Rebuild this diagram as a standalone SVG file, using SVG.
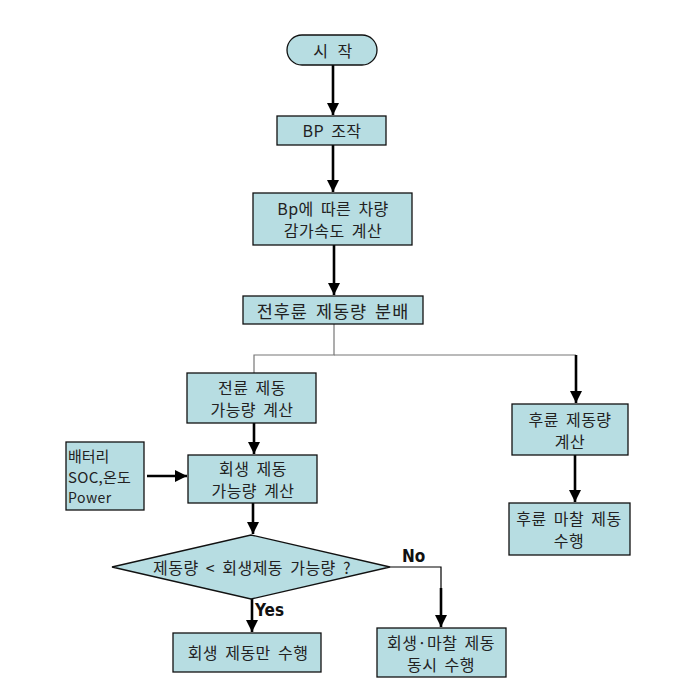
<svg xmlns="http://www.w3.org/2000/svg" width="677" height="699" viewBox="0 0 677 699">
<style>
.box{fill:#b7dde2;stroke:#111;stroke-width:1.3}
.t{font-family:"Noto Sans CJK KR","Liberation Sans",sans-serif;font-size:16px;letter-spacing:0.5px;word-spacing:3px;fill:#222;text-anchor:middle;dominant-baseline:central}
.tl{text-anchor:start}
.yn{font-family:"Liberation Sans Narrow","DejaVu Sans Condensed","Liberation Sans",sans-serif;font-weight:bold;font-size:17px;fill:#111}
.thick{stroke:#000;stroke-width:2.6;fill:none}
.thin{stroke:#777;stroke-width:1.2;fill:none}
.thinb{stroke:#000;stroke-width:1.2;fill:none}
</style>
<defs>
<marker id="ah" markerUnits="userSpaceOnUse" markerWidth="14" markerHeight="14" refX="12" refY="6" orient="auto">
<path d="M0,0 L12,6 L0,12 Z" fill="#000"/>
</marker>
</defs>
<rect width="677" height="699" fill="#fff"/>
<g id="connectors">
<line class="thick" x1="333" y1="65" x2="333" y2="115" marker-end="url(#ah)"/>
<line class="thick" x1="333" y1="145" x2="333" y2="192" marker-end="url(#ah)"/>
<line class="thick" x1="334" y1="245" x2="334" y2="295" marker-end="url(#ah)"/>
<polyline class="thin" points="334,324 334,355 254,355 254,373"/>
<line class="thin" x1="334" y1="355" x2="576" y2="355"/>
<line class="thick" x1="576" y1="355" x2="576" y2="403" marker-end="url(#ah)"/>
<line class="thick" x1="254" y1="423" x2="254" y2="454" marker-end="url(#ah)"/>
<line class="thick" x1="147" y1="476" x2="187" y2="476" marker-end="url(#ah)"/>
<line class="thick" x1="575" y1="455" x2="575" y2="502" marker-end="url(#ah)"/>
<line class="thick" x1="253" y1="503" x2="253" y2="534" marker-end="url(#ah)"/>
<line class="thick" x1="252" y1="599" x2="252" y2="632" marker-end="url(#ah)"/>
<polyline class="thinb" points="390,567 441,567 441,590"/>
<line class="thick" x1="441" y1="588" x2="441" y2="627" marker-end="url(#ah)"/>
<text class="yn" x="255" y="616">Yes</text>
<text class="yn" x="402" y="562">No</text>
</g>
<g id="start">
<rect class="box" x="287" y="35" width="90" height="30" rx="15"/>
<text class="t" x="333" y="50" style="word-spacing:5px">시 작</text>
</g>
<g id="bp">
<rect class="box" x="277" y="116" width="109" height="29"/>
<text class="t" x="332" y="130">BP 조작</text>
</g>
<g id="decel">
<rect class="box" x="253" y="193" width="159" height="52"/>
<text class="t" x="333" y="208">Bp에 따른 차량</text>
<text class="t" x="333" y="230">감가속도 계산</text>
</g>
<g id="dist">
<rect class="box" x="243" y="296" width="180" height="28"/>
<text class="t" x="333" y="310" style="font-size:17.5px;letter-spacing:1px">전후륜 제동량 분배</text>
</g>
<g id="front">
<rect class="box" x="187" y="373" width="129" height="50"/>
<text class="t" x="252" y="387">전륜 제동</text>
<text class="t" x="252" y="409">가능량 계산</text>
</g>
<g id="regen">
<rect class="box" x="188" y="455" width="129" height="48"/>
<text class="t" x="253" y="468">회생 제동</text>
<text class="t" x="253" y="490">가능량 계산</text>
</g>
<g id="battery">
<rect class="box" x="66" y="442" width="78" height="68"/>
<text class="t tl" x="68" y="455" style="font-size:15px;letter-spacing:0">배터리</text>
<text class="t tl" x="68" y="476" style="font-size:15px;letter-spacing:0.3px">SOC,온도</text>
<text class="t tl" x="68" y="497" style="font-size:14px;letter-spacing:0.5px">Power</text>
</g>
<g id="rear">
<rect class="box" x="512" y="404" width="116" height="51"/>
<text class="t" x="570" y="419">후륜 제동량</text>
<text class="t" x="570" y="441">계산</text>
</g>
<g id="rearfric">
<rect class="box" x="509" y="503" width="121" height="52"/>
<text class="t" x="569" y="518">후륜 마찰 제동</text>
<text class="t" x="569" y="540">수행</text>
</g>
<g id="decision">
<polygon class="box" points="112,567 251,535 390,567 251,599"/>
<text class="t" x="252" y="567">제동량 &lt; 회생제동 가능량 ?</text>
</g>
<g id="regenonly">
<rect class="box" x="173" y="633" width="148" height="39"/>
<text class="t" x="248" y="652">회생 제동만 수행</text>
</g>
<g id="both">
<rect class="box" x="377" y="628" width="129" height="49"/>
<text class="t" x="441" y="642">회생·마찰 제동</text>
<text class="t" x="441" y="664">동시 수행</text>
</g>
</svg>
